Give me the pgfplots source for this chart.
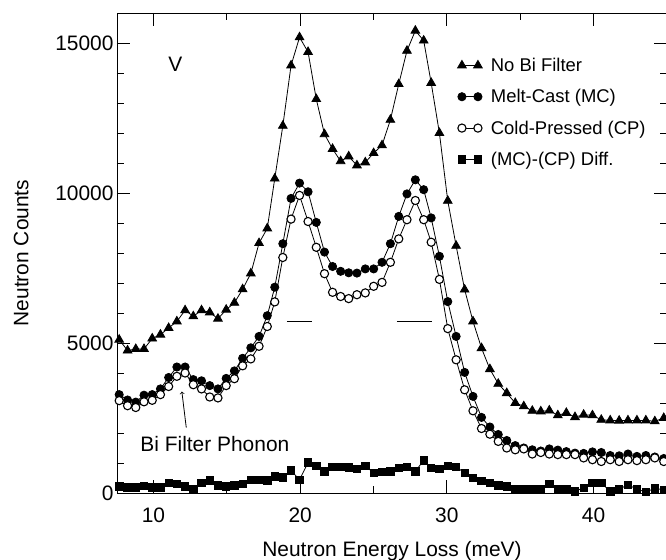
\documentclass[border=0pt]{standalone}
\usepackage{fontspec}
\setmainfont{Liberation Sans}
\usepackage{pgfplots}
\usepackage{pgfplotstable}
\pgfplotsset{compat=1.18}
\usetikzlibrary{calc}

\pgfplotstableread{
x     nobi   mc     cp     diff
7.67  5110   3280   3080   220
8.24  4750   3100   2910   190
8.80  4800   3030   2850   190
9.36  4800   3260   3040   240
9.92  5150   3280   3090   190
10.48 5280   3470   3280   190
11.04 5500   3850   3550   330
11.60 5720   4200   3890   310
12.16 6090   4200   4000   220
12.72 5890   3780   3610   140
13.28 6090   3740   3470   330
13.84 6020   3580   3200   420
14.40 5810   3470   3170   260
14.96 6110   3820   3580   220
15.52 6340   4070   3810   260
16.08 6790   4490   4240   300
16.64 7320   4840   4470   440
17.20 8330   5220   4890   440
17.76 8820   5910   5550   420
18.27 10480  6860   6370   550
18.82 12240  8310   7850   520
19.38 14250  9820   9130   750
19.96 15190  10330  9920   440
20.54 14700  10040  9050   1020
21.10 13130  9020   8190   910
21.66 11960  8030   7310   720
22.21 11470  7550   6690   880
22.76 11060  7390   6550   880
23.31 11220  7340   6480   860
23.87 10920  7330   6610   800
24.44 11020  7470   6670   910
25.01 11330  7470   6890   670
25.58 11590  7690   7020   700
26.15 12440  8310   7690   720
26.72 13630  9220   8470   830
27.28 14740  9970   9110   880
27.85 15410  10440  9750   720
28.42 15080  10110  9110   1090
28.93 13670  9170   8360   830
29.49 12000  7890   7120   800
30.06 9740   6380   5480   910
30.63 8240   5220   4440   870
31.21 6780   4020   3440   670
31.78 5720   3220   2740   500
32.36 4830   2520   2150   410
32.93 4130   2200   1960   330
33.50 3640   1950   1720   250
34.08 3330   1750   1500   220
34.66 3000   1580   1440   130
35.24 2890   1500   1470   130
35.82 2740   1440   1300   130
36.40 2720   1400   1350   130
36.98 2750   1470   1300   310
37.56 2590   1430   1280   130
38.14 2670   1380   1280   130
38.73 2530   1330   1280   60
39.32 2610   1320   1170   170
39.92 2590   1370   1110   330
40.52 2440   1350   1050   330
41.13 2420   1250   1110   60
41.74 2410   1240   1050   130
42.34 2420   1300   1110   270
42.95 2420   1220   1080   130
43.56 2420   1250   1110   30
44.17 2390   1200   1170   160
44.78 2500   1150   1050   100
}\datatable

\begin{document}
\begin{tikzpicture}
\begin{axis}[
  scale only axis,
  width=550bp, height=480bp,
  xmin=7.52, xmax=45.0, ymin=0, ymax=16000,
  xtick={10,20,30,40}, minor x tick num=1,
  ytick={0,5000,10000,15000}, minor y tick num=4,
  tick align=inside,
  major tick length=13bp, minor tick length=7bp,
  every tick/.style={black, line width=0.8bp},
  axis line style={line width=0.8bp},
  scaled y ticks=false,
  /pgf/number format/1000 sep={},
  /pgf/number format/assume math mode=true,
  tick label style={font=\fontsize{21}{25}\selectfont},
  label style={font=\fontsize{21}{25}\selectfont},
  xticklabel shift=11bp,
  xlabel shift=12bp,
  ylabel shift=20bp,
  xlabel={Neutron Energy Loss (meV)},
  ylabel={Neutron Counts},
  legend style={at={(rel axis cs:0.605,0.915)}, anchor=north west,
    draw=none, fill=none, font=\fontsize{18.5}{22}\selectfont,
    row sep=12.5bp},
  legend cell align=left,
  legend image code/.code={\path[draw=none,fill=none] (0bp,0bp) -- (36bp,0bp);\draw[mark repeat=1,#1] plot coordinates {(9bp,0bp) (25bp,0bp)};},
]
\addplot[black, line width=0.8bp, mark=triangle*, mark size=5bp, mark options={fill=black}] table[x=x,y=nobi] {\datatable};
\addlegendentry{No Bi Filter}
\addplot[black, line width=0.8bp, mark=*, mark size=4.1bp, mark options={fill=black}] table[x=x,y=mc] {\datatable};
\addlegendentry{Melt-Cast (MC)}
\addplot[black, line width=0.8bp, mark=*, mark size=4.1bp, mark options={fill=white, line width=1.1bp}] table[x=x,y=cp] {\datatable};
\addlegendentry{Cold-Pressed (CP)}
\addplot[black, line width=0.8bp, mark=square*, mark size=3.7bp, mark options={fill=black},
  error bars/.cd, y dir=both, y fixed=130, error mark=none,
  error bar style={line width=0.8bp}] table[x=x,y=diff] {\datatable};
\addlegendentry{(MC)-(CP) Diff.}
\addplot[black, line width=0.8bp, no marks, forget plot] coordinates {(19.09,5720) (20.8,5720)};
\addplot[black, line width=0.8bp, no marks, forget plot] coordinates {(26.59,5720) (28.98,5720)};
\node[font=\fontsize{21}{25}\selectfont] at (axis cs:11.49,14280) {V};
\node[font=\fontsize{21}{25}\selectfont] at (axis cs:14.19,1640) {Bi Filter Phonon};
\draw[->, line width=0.8bp] (axis cs:12.24,2180) -- (axis cs:11.94,3380);
\end{axis}
\pgfresetboundingbox
\path[use as bounding box] ($(current axis.south west)+(-117bp,-67bp)$) rectangle ($(current axis.north east)+(-1bp,13bp)$);
\end{tikzpicture}
\end{document}
